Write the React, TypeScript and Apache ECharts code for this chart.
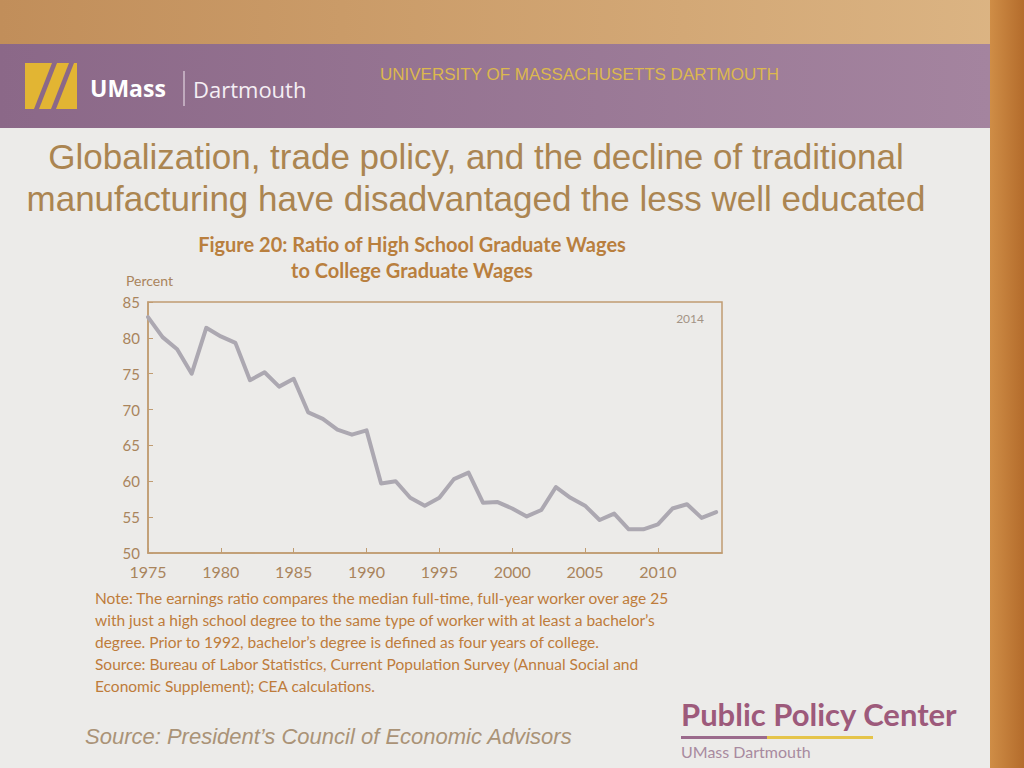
import React, { useEffect, useRef } from "react";
import * as echarts from "echarts";

// ---- data (perspective-corrected) ----
const years = [
  1975, 1976, 1977, 1978, 1979, 1980, 1981, 1982, 1983, 1984,
  1985, 1986, 1987, 1988, 1989, 1990, 1991, 1992, 1993, 1994,
  1995, 1996, 1997, 1998, 1999, 2000, 2001, 2002, 2003, 2004,
  2005, 2006, 2007, 2008, 2009, 2010, 2011, 2012, 2013, 2014,
];
const ratio = [
  82.9, 80.1, 78.4, 75.0, 81.4, 80.2, 79.3, 74.1, 75.2, 73.2,
  74.3, 69.6, 68.7, 67.2, 66.5, 67.1, 59.7, 60.0, 57.7, 56.6,
  57.7, 60.3, 61.2, 57.0, 57.1, 56.2, 55.1, 56.0, 59.2, 57.7,
  56.6, 54.6, 55.5, 53.3, 53.3, 54.0, 56.2, 56.8, 54.9, 55.7,
];
const yMin = 50;
const yMax = 85;
const yStep = 5;
const xMin = 1975;
const xMax = 2014.4;
const xStep = 5;

const slideTitle = [
  "Globalization, trade policy, and the decline of traditional",
  "manufacturing have disadvantaged the less well educated",
];
const figureTitle = [
  "Figure 20: Ratio of High School Graduate Wages",
  "to College Graduate Wages",
];
const yAxisName = "Percent";
const yearTag = "2014";
const noteLines = [
  "Note: The earnings ratio compares the median full-time, full-year worker over age 25",
  "with just a high school degree to the same type of worker with at least a bachelor’s",
  "degree. Prior to 1992, bachelor’s degree is defined as four years of college.",
  "Source: Bureau of Labor Statistics, Current Population Survey (Annual Social and",
  "Economic Supplement); CEA calculations.",
];
const sourceLine = "Source: President’s Council of Economic Advisors";
const brandBold = "UMass";
const brandLight = "Dartmouth";
const brandUniversity = "UNIVERSITY OF MASSACHUSETTS DARTMOUTH";
const centerName = "Public Policy Center";
const centerSub = "UMass Dartmouth";

// ---- styles ----
const SLIDE = "#ecebe9";
const FRAME = "#c09c72";
const LABEL = "#a9845c";
const LINE = "#aca8b1";
const BAND_L = "#8b6888";
const BAND_R = "#a4849f";
const GOLD = "#e2b533";

export default function App() {
  const ref = useRef<HTMLDivElement>(null);

  useEffect(() => {
    if (!ref.current) return;
    const chart = echarts.init(ref.current, null, { renderer: "svg" });

    const seriesData = years.map((y, i) => [y, ratio[i]]);

    const txt = (
      text: string,
      x: number,
      y: number,
      font: string,
      fill: string,
      align: string = "left",
      vAlign: string = "middle"
    ) => ({
      type: "text",
      x,
      y,
      silent: true,
      style: {
        text,
        font,
        fill,
        textAlign: align,
        align,
        textVerticalAlign: vAlign,
        verticalAlign: vAlign,
      },
    });

    const elements: any[] = [
      // wood above the slide
      {
        type: "rect",
        shape: { x: 0, y: 0, width: 1024, height: 44 },
        style: {
          fill: new echarts.graphic.LinearGradient(0, 0, 1, 0, [
            { offset: 0, color: "#c18e5a" },
            { offset: 1, color: "#dcb584" },
          ]),
        },
        silent: true,
      },
      // wood at the right of the slide
      {
        type: "rect",
        shape: { x: 990, y: 0, width: 34, height: 768 },
        style: {
          fill: new echarts.graphic.LinearGradient(0, 0, 1, 0, [
            { offset: 0, color: "#cf8d46" },
            { offset: 1, color: "#b46c2c" },
          ]),
        },
        silent: true,
      },
      // purple header band
      {
        type: "rect",
        shape: { x: 0, y: 44, width: 990, height: 84 },
        style: {
          fill: new echarts.graphic.LinearGradient(0, 0, 1, 0, [
            { offset: 0, color: BAND_L },
            { offset: 1, color: BAND_R },
          ]),
        },
        silent: true,
      },
      // logo
      {
        type: "rect",
        shape: { x: 25, y: 63, width: 52, height: 46 },
        style: { fill: GOLD },
        silent: true,
      },
      {
        type: "polygon",
        shape: { points: [[34, 109], [52, 63], [57, 63], [39, 109]] },
        style: { fill: BAND_L },
        silent: true,
      },
      {
        type: "polygon",
        shape: { points: [[51, 109], [69, 63], [74, 63], [56, 109]] },
        style: { fill: BAND_L },
        silent: true,
      },
      txt(brandBold, 90, 88, 'bold 23px "Open Sans"', "#ffffff"),
      {
        type: "line",
        shape: { x1: 184, y1: 71, x2: 184, y2: 106 },
        style: { stroke: "#f1e7ef", lineWidth: 1 },
        silent: true,
      },
      txt(brandLight, 193, 89, '22px "Open Sans"', "#f5eef4"),
      txt(brandUniversity, 380, 74, '17px "Liberation Sans"', "#dcb84e"),
      // slide title
      txt(slideTitle[0], 476, 156, '35px "Liberation Sans"', "#ab8551", "center"),
      txt(slideTitle[1], 476, 198, '35px "Liberation Sans"', "#ab8551", "center"),
      // figure title
      txt(figureTitle[0], 412, 244, "bold 20px Lato", "#b97f3e", "center"),
      txt(figureTitle[1], 412, 270, "bold 20px Lato", "#b97f3e", "center"),
      txt(yAxisName, 126, 280, "14px Lato", LABEL),
      txt(yearTag, 704, 318, "12px Lato", "#a39385", "right"),
      // notes
      ...noteLines.map((t, i) => txt(t, 95, 598 + i * 22, "15.5px Lato", "#be7c3b")),
      txt(sourceLine, 85, 736, 'italic 22px "Liberation Sans"', "#aa9377"),
      // Public Policy Center
      txt(centerName, 681, 714, "bold 31px Lato", "#9d5a7b"),
      {
        type: "rect",
        shape: { x: 681, y: 736, width: 86, height: 3 },
        style: { fill: "#9b6a8c" },
        silent: true,
      },
      {
        type: "rect",
        shape: { x: 767, y: 736, width: 106, height: 3 },
        style: { fill: "#e5c44a" },
        silent: true,
      },
      txt(centerSub, 681, 743, "16px Lato", "#a88a9f", "left", "top"),
    ];

    chart.setOption({
      animation: false,
      backgroundColor: SLIDE,
      graphic: { elements },
      grid: {
        left: 148,
        right: 302,
        top: 302,
        bottom: 215,
        show: true,
        borderColor: FRAME,
        borderWidth: 1.5,
        containLabel: false,
      },
      xAxis: {
        type: "value",
        min: xMin,
        max: xMax,
        interval: xStep,
        axisLine: { show: true, lineStyle: { color: FRAME, width: 1.5 } },
        axisTick: { show: true, inside: true, length: 5, lineStyle: { color: FRAME } },
        splitLine: { show: false },
        axisLabel: {
          color: LABEL,
          fontFamily: "Lato",
          fontSize: 16,
          margin: 10,
          showMaxLabel: false,
          formatter: (v: number) => String(v),
        },
      },
      yAxis: {
        type: "value",
        min: yMin,
        max: yMax,
        interval: yStep,
        axisLine: { show: true, lineStyle: { color: FRAME, width: 1.5 } },
        axisTick: { show: true, inside: true, length: 5, lineStyle: { color: FRAME } },
        splitLine: { show: false },
        axisLabel: {
          color: LABEL,
          fontFamily: "Lato",
          fontSize: 15,
          margin: 8,
          formatter: (v: number) => String(v),
        },
      },
      series: [
        {
          type: "line",
          data: seriesData,
          symbol: "none",
          smooth: false,
          lineStyle: { color: LINE, width: 4, join: "round", cap: "round" },
          z: 3,
        },
      ],
    });

    return () => chart.dispose();
  }, []);

  return (
    <div
      ref={ref}
      style={{ position: "fixed", left: 0, top: 0, width: 1024, height: 768 }}
    />
  );
}
